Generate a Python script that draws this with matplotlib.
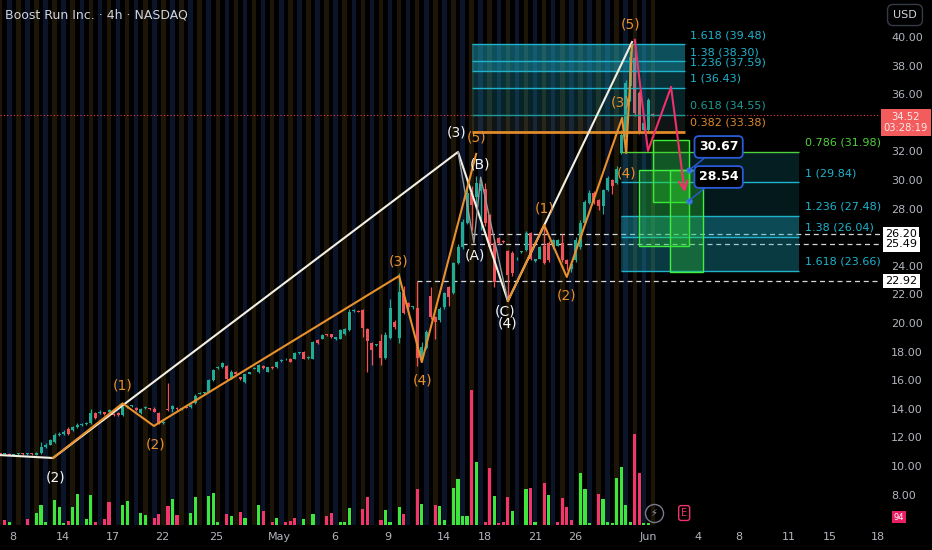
import matplotlib
matplotlib.use("Agg")
import matplotlib.pyplot as plt
from matplotlib.patches import Rectangle

# ---- candles (4h bars, index = bar number) ----
opens = [10.85, 10.82, 10.85, 10.80, 10.83, 10.86, 10.82, 10.84, 10.80, 10.90,
         11.30, 11.50, 11.70, 12.20, 12.25, 12.60, 12.50, 12.70, 12.85, 12.95,
         13.00, 13.70, 13.70, 13.75, 13.80, 13.65, 13.70, 13.55, 14.10, 14.20,
         14.05, 13.70, 14.05, 14.02, 14.00, 13.70, 13.00, 14.00, 14.00, 14.05,
         14.00, 14.12, 14.10, 14.40, 15.05, 15.10, 15.20, 16.00, 16.85, 16.90,
         17.00, 16.10, 16.60, 16.20, 15.90, 16.45, 16.80, 16.60, 17.00, 16.60,
         16.95, 16.90, 17.35, 17.45, 17.50, 17.50, 17.88, 18.00, 17.55, 17.50,
         18.80, 18.90, 19.20, 19.20, 18.85, 18.90, 19.20, 19.50, 20.85, 20.85,
         20.90, 19.60, 18.60, 18.45, 18.75, 17.55, 18.95, 20.10, 18.95, 22.10,
         21.40, 21.10, 21.05, 17.55, 18.25, 21.90, 20.40, 20.20, 21.10, 22.50,
         22.10, 24.20, 25.30, 27.00, 29.10, 28.80, 29.20, 29.40, 27.55, 25.60,
         25.95, 25.75, 25.00, 24.90, 24.45, 24.95, 25.10, 26.30, 24.35, 24.50,
         25.40, 25.60, 25.30, 25.40, 25.60, 24.40, 23.80, 24.40, 25.30, 27.00,
         28.40, 29.10, 28.60, 28.20, 29.30, 30.00, 29.80, 31.90, 33.00, 36.60,
         38.55, 36.10, 33.50, 33.50, 34.60]
highs = [10.90, 10.88, 10.90, 10.85, 10.90, 10.90, 10.88, 10.90, 10.95, 11.70,
         11.60, 11.90, 12.30, 12.35, 12.50, 12.70, 12.80, 13.00, 13.00, 13.05,
         14.00, 13.80, 13.90, 13.80, 14.00, 13.70, 13.75, 14.20, 14.30, 14.30,
         14.10, 14.05, 14.20, 14.05, 14.10, 13.75, 13.15, 15.80, 14.30, 14.10,
         14.05, 14.15, 14.35, 15.00, 15.15, 15.15, 16.10, 16.80, 17.00, 17.25,
         17.05, 16.70, 16.65, 16.25, 16.45, 16.60, 16.90, 17.10, 17.05, 16.95,
         17.00, 17.35, 17.45, 17.55, 17.55, 17.95, 17.95, 18.05, 17.70, 18.75,
         18.85, 19.20, 19.25, 19.25, 19.05, 19.55, 19.65, 21.00, 20.95, 20.90,
         20.95, 19.65, 18.65, 18.55, 19.20, 19.40, 21.70, 20.20, 23.50, 22.60,
         21.45, 21.20, 22.92, 18.70, 19.50, 22.50, 20.50, 21.10, 22.20, 22.60,
         24.30, 25.50, 27.30, 30.00, 29.60, 30.30, 30.00, 29.80, 27.60, 25.90,
         26.00, 25.80, 25.10, 25.00, 24.60, 25.05, 26.40, 26.35, 24.50, 25.40,
         26.70, 25.70, 25.85, 25.90, 26.20, 24.50, 24.20, 26.00, 27.20, 28.60,
         29.30, 29.20, 28.70, 29.40, 30.30, 30.10, 31.00, 33.50, 37.00, 39.00,
         39.80, 36.20, 34.10, 35.70, 34.70]
lows = [10.80, 10.78, 10.80, 10.75, 10.80, 10.80, 10.78, 10.80, 10.78, 10.85,
        11.25, 11.45, 11.60, 12.10, 12.20, 12.20, 12.45, 12.65, 12.80, 12.90,
        12.95, 13.30, 13.65, 13.60, 13.75, 13.50, 13.50, 13.50, 14.05, 14.15,
        13.85, 13.65, 14.00, 13.95, 13.75, 12.95, 12.95, 13.85, 13.80, 13.95,
        13.95, 14.05, 14.05, 14.35, 15.00, 15.05, 15.15, 15.95, 16.80, 16.85,
        16.00, 16.05, 16.35, 16.00, 15.80, 16.40, 16.75, 16.50, 16.80, 16.55,
        16.80, 16.85, 17.30, 17.40, 17.25, 17.45, 17.85, 17.45, 17.50, 17.45,
        18.55, 18.85, 19.10, 18.95, 18.80, 18.85, 19.15, 19.45, 20.80, 20.75,
        19.00, 16.60, 17.05, 18.40, 17.05, 17.50, 18.90, 19.60, 18.60, 20.60,
        21.00, 21.00, 17.00, 17.30, 18.20, 20.30, 18.90, 20.10, 21.00, 21.20,
        22.00, 24.10, 25.20, 26.90, 26.50, 28.00, 26.50, 26.80, 25.00, 22.50,
        25.50, 25.60, 21.60, 23.30, 24.40, 24.90, 25.00, 24.40, 24.30, 24.45,
        24.10, 24.30, 25.20, 25.35, 24.30, 23.70, 23.60, 24.30, 25.20, 26.90,
        28.30, 28.30, 27.90, 27.60, 29.20, 29.00, 29.70, 31.80, 31.90, 35.50,
        34.50, 33.20, 33.30, 33.40, 34.45]
closes = [10.82, 10.85, 10.80, 10.83, 10.86, 10.82, 10.84, 10.83, 10.90, 11.30,
          11.50, 11.80, 12.20, 12.25, 12.40, 12.25, 12.70, 12.90, 12.95, 12.98,
          13.70, 13.35, 13.80, 13.65, 13.90, 13.55, 13.55, 14.10, 14.20, 14.22,
          13.90, 14.00, 14.15, 14.00, 13.80, 13.00, 13.10, 13.90, 14.20, 14.00,
          14.02, 14.08, 14.30, 14.90, 15.10, 15.12, 16.00, 16.70, 16.90, 17.20,
          16.10, 16.60, 16.40, 16.10, 16.40, 16.55, 16.85, 17.05, 16.85, 16.90,
          16.85, 17.30, 17.40, 17.50, 17.30, 17.90, 17.90, 17.50, 17.65, 18.70,
          18.60, 19.15, 19.15, 19.00, 19.00, 19.50, 19.60, 20.80, 20.90, 20.80,
          19.65, 18.75, 18.10, 18.50, 17.55, 19.15, 21.05, 19.70, 22.20, 20.70,
          21.10, 21.12, 17.55, 18.30, 19.40, 20.40, 20.10, 21.00, 22.10, 21.80,
          24.20, 25.30, 27.05, 29.10, 28.25, 29.80, 29.70, 27.00, 25.30, 22.90,
          25.60, 25.65, 23.35, 23.50, 24.50, 25.00, 26.30, 24.50, 24.45, 25.30,
          24.20, 24.40, 25.80, 25.80, 24.40, 24.10, 24.10, 25.80, 27.00, 28.45,
          29.10, 28.40, 28.20, 29.30, 30.15, 29.60, 30.80, 33.15, 36.80, 38.60,
          34.70, 33.35, 34.00, 35.60, 34.52]

# ---- volume (visible bars only) ----
vol_idx = [1, 2, 6, 8, 9, 10, 12, 13, 14, 15, 16, 17, 19, 20, 21, 23, 24, 27, 28, 31,
           32, 34, 35, 37, 38, 39, 42, 43, 46, 47, 48, 50, 51, 53, 54, 57, 58, 60, 61, 63,
           64, 65, 67, 69, 72, 73, 75, 76, 77, 80, 81, 84, 85, 86, 88, 89, 92, 93, 96, 97,
           98, 100, 101, 102, 103, 104, 105, 107, 108, 109, 110, 111, 112, 113, 116, 117,
           118, 120, 121, 123, 124, 125, 126, 128, 129, 130, 132, 133, 134, 135, 136, 137,
           138, 139, 140, 141, 142, 143]
vol_val = [5, 3, 6, 12, 20, 3, 25, 18, 2, 4, 18, 31, 6, 30, 3, 6, 23, 20, 24, 12,
           10, 7, 11, 19, 26, 10, 12, 28, 29, 32, 3, 11, 9, 13, 7, 20, 14, 3, 7, 3,
           4, 7, 6, 11, 9, 12, 3, 3, 17, 16, 28, 5, 15, 3, 18, 11, 36, 21, 20, 19,
           5, 37, 46, 9, 9, 135, 63, 3, 57, 29, 2, 3, 28, 14, 36, 37,
           3, 42, 30, 3, 27, 18, 5, 52, 36, 2, 31, 26, 3, 2, 47, 58,
           20, 3, 91, 52, 2, 2]
vol_up = [0, 1, 0, 1, 1, 1, 1, 1, 1, 0, 1, 1, 1, 1, 0, 0, 0, 1, 1, 1,
          1, 0, 0, 0, 1, 0, 1, 1, 1, 1, 1, 0, 1, 0, 1, 1, 0, 0, 1, 0,
          0, 0, 1, 1, 0, 0, 1, 1, 1, 0, 0, 0, 1, 1, 1, 0, 0, 1, 0, 1,
          1, 1, 1, 1, 1, 0, 1, 0, 0, 1, 0, 0, 0, 1, 1, 0,
          1, 0, 1, 0, 0, 0, 0, 1, 1, 1, 0, 1, 1, 1, 1, 1,
          1, 1, 0, 0, 1, 1]

# ---- elliott waves (bar, price) ----
white_x = [-0.5, 11.65, 101.0, 112.0, 139.4]
white_y = [10.77, 10.56, 31.96, 21.54, 39.65]
abc_x = [101.0, 104.5, 106.0, 112.0]
abc_y = [31.96, 25.6, 30.2, 21.54]
orange1_x = [11.65, 27.0, 33.9, 88.0, 93.0, 105.0]
orange1_y = [10.56, 14.38, 12.80, 23.29, 17.27, 31.82]
orange2_x = [112.0, 120.0, 125.0, 137.2, 138.1, 139.4]
orange2_y = [21.54, 26.85, 23.22, 34.34, 31.89, 39.44]
proj_x = [140.0, 142.9, 148.0, 151.1]
proj_y = [39.80, 32.03, 36.50, 28.95]

white_labels = [("(2)", 12.1, 9.23), ("(3)", 100.6, 33.29), ("(B)", 105.9, 31.05),
                ("(A)", 104.8, 24.69), ("(C)", 111.4, 20.77), ("(4)", 112.0, 19.93)]
orange_labels = [("(1)", 26.9, 15.66), ("(2)", 34.2, 11.47), ("(3)", 87.8, 24.27),
                 ("(4)", 93.1, 16.01), ("(5)", 105.2, 33.00), ("(1)", 120.0, 28.04),
                 ("(2)", 125.0, 21.89), ("(3)", 136.9, 35.45), ("(4)", 138.1, 30.42),
                 ("(5)", 139.0, 40.84)]

# ---- fib extensions ----
fib_top_ratio = ["1.618", "1.38", "1.236", "1", "0.618", "0.382"]
fib_top_level = [39.48, 38.30, 37.59, 36.43, 34.55, 33.38]
fib_bot_ratio = ["0.786", "1", "1.236", "1.38", "1.618"]
fib_bot_level = [31.98, 29.84, 27.48, 26.04, 23.66]

# target zones (x0, x1, low, high)
zones = [(144.0, 151.9, 28.45, 32.8), (140.9, 151.9, 25.4, 30.7), (147.8, 155.1, 23.6, 30.7)]
targets = [30.67, 28.54]

marked_levels = [26.20, 25.49, 22.92]
marked_start = [104.1, 101.9, 92.0]
last_price = 34.52

tick_pos = [2.8, 13.9, 24.9, 35.7, 47.6, 61.7, 73.9, 85.5, 97.9, 107.0, 118.0, 126.8,
            142.9, 153.9, 163.0, 174.0, 183.1, 193.6]
tick_lab = ["8", "14", "17", "22", "25", "May", "6", "9", "14", "18", "21", "26",
            "Jun", "4", "8", "11", "15", "18"]

UP = "#22ab94"
DOWN = "#f0525a"
WHITE = "#f3efe0"
ORANGE = "#e8902c"
CYAN = "#1fb3cc"
GREY = "#b2b5be"

XMIN, XMAX = -0.05, 194.1
YMIN, YMAX = 5.874, 42.587

fig = plt.figure(figsize=(9.32, 5.5), dpi=100, facecolor="black")
rect = [0, 25 / 550, 880 / 932, 525 / 550]

# background: session stripes + volume
bg = fig.add_axes(rect)
bg.set_facecolor("black")
bg.set_xlim(XMIN, XMAX)
bg.set_ylim(0, 525)
bg.axis("off")
stripe_cols = ["#1d1608", "#000000", "#0b1428", "#000000"]
for i in range(len(opens)):
    bg.axvspan(i - 0.5, i + 0.5, color=stripe_cols[i % 4], lw=0, zorder=0)
bg.bar(vol_idx, vol_val, width=0.7,
       color=["#3ce63c" if u else "#f2356d" for u in vol_up], zorder=1)

ax = fig.add_axes(rect)
ax.patch.set_alpha(0)
ax.set_xlim(XMIN, XMAX)
ax.set_ylim(YMIN, YMAX)
for s in ax.spines.values():
    s.set_visible(False)

# price line and marked levels
ax.axhline(last_price, color="#f23645", lw=0.8, ls=(0, (1, 2)), zorder=1)
for lv, st in zip(marked_levels, marked_start):
    ax.hlines(lv, st, XMAX, colors="#d8d8d8", linestyles=(0, (4, 3)), lw=0.9, zorder=2)

# candles
xs = list(range(len(opens)))
cols = [UP if c >= o else DOWN for o, c in zip(opens, closes)]
ax.vlines(xs, lows, highs, colors=cols, lw=0.9, zorder=3)
body = [max(abs(c - o), 0.06) for o, c in zip(opens, closes)]
ax.bar(xs, body, bottom=[min(o, c) for o, c in zip(opens, closes)], width=0.66,
       color=cols, zorder=3)

# top fib
tx0, tx1 = 104.1, 151.1
top_alpha = [0.45, 0.5, 0.28, 0.2, 0.13]
for k in range(len(fib_top_level) - 1):
    ax.fill_between([tx0, tx1], fib_top_level[k + 1], fib_top_level[k],
                    color=CYAN if k < 4 else "#7aa0a0", alpha=top_alpha[k], lw=0, zorder=4)
top_col = [CYAN, CYAN, CYAN, CYAN, "#1c9a96", "#e08a2a"]
for r, lv, c in zip(fib_top_ratio, fib_top_level, top_col):
    ax.hlines(lv, tx0, tx1, colors=c, lw=2.0 if r == "0.382" else 1.0, zorder=5)
    ax.annotate(f"{r} ({lv:.2f})", (tx1 + 1.1, lv), xytext=(0, 3), textcoords="offset points",
                color=c, fontsize=8, ha="left", va="bottom", zorder=7)

# bottom fib
bx0, bx1 = 137.0, 176.2
bot_alpha = [0.17, 0.14, 0.42, 0.32]
for k in range(len(fib_bot_level) - 1):
    ax.fill_between([bx0, bx1], fib_bot_level[k + 1], fib_bot_level[k],
                    color=CYAN, alpha=bot_alpha[k], lw=0, zorder=4)
bot_col = ["#4fd13a", CYAN, CYAN, CYAN, CYAN]
for r, lv, c in zip(fib_bot_ratio, fib_bot_level, bot_col):
    ax.hlines(lv, bx0, bx1, colors=c, lw=1.0, zorder=5)
    ax.annotate(f"{r} ({lv:.2f})", (bx1 + 1.3, lv), xytext=(0, 3), textcoords="offset points",
                color=c, fontsize=8, ha="left", va="bottom", zorder=7)

# green target zones
for x0, x1, lo, hi in zones:
    ax.add_patch(Rectangle((x0, lo), x1 - x0, hi - lo, fc="#2ed82e", alpha=0.3, lw=0, zorder=5))
    ax.add_patch(Rectangle((x0, lo), x1 - x0, hi - lo, fc="none", ec="#3ff03f", lw=1.0, zorder=5))

# wave lines
ax.plot(white_x, white_y, color=WHITE, lw=1.5, zorder=6)
ax.plot(abc_x, abc_y, color="#9a9a9a", lw=1.0, zorder=6)
ax.plot(orange1_x, orange1_y, color=ORANGE, lw=1.5, zorder=6)
ax.plot(orange2_x, orange2_y, color=ORANGE, lw=1.5, zorder=6)
ax.plot(proj_x[:-1], proj_y[:-1], color="#f0306a", lw=1.5, zorder=6)
ax.annotate("", xy=(proj_x[-1], proj_y[-1]), xytext=(proj_x[-2], proj_y[-2]),
            arrowprops=dict(arrowstyle="->", color="#f0306a", lw=1.5, mutation_scale=16),
            zorder=6)

for t, x, y in white_labels:
    ax.text(x, y, t, color="#f5f5f5", fontsize=10, ha="center", va="center", zorder=7)
for t, x, y in orange_labels:
    ax.text(x, y, t, color=ORANGE, fontsize=10, ha="center", va="center", zorder=7)

# callouts
box_y = [32.31, 30.21]
for v, by in zip(targets, box_y):
    ax.plot(151.9, v, "o", ms=3.5, color="#3b78e7", zorder=8)
    ax.annotate(f"{v:.2f}", xy=(151.9, v), xytext=(158.5, by), color="white", fontsize=9,
                fontweight="bold", ha="center", va="center", zorder=8,
                bbox=dict(boxstyle="round,pad=0.35", fc="black", ec="#2a5bd7", lw=1.3),
                arrowprops=dict(arrowstyle="-", color="#2a5bd7", lw=1.0,
                                shrinkA=0, shrinkB=0))

# icons near the bottom
ax.plot(144.2, 6.71, "o", ms=13, mfc="none", mec="#787b86", mew=1.0, zorder=7)
ax.text(144.2, 6.71, "\u26a1", color="#9598a1", fontsize=7, ha="center", va="center", zorder=7)
ax.text(150.9, 6.71, "E", color="#f0306a", fontsize=7, ha="center", va="center", zorder=7,
        bbox=dict(boxstyle="round,pad=0.25", fc="black", ec="#f0306a", lw=1.0))

# axes
yt = [8, 10, 12, 14, 16, 18, 20, 22, 24, 28, 30, 32, 36, 38, 40]
ax.yaxis.tick_right()
ax.set_yticks(yt)
ax.set_yticklabels([f"{v:.2f}" for v in yt])
ax.set_xticks(tick_pos)
ax.set_xticklabels(tick_lab)
ax.tick_params(axis="y", length=0, pad=8, labelsize=8, labelcolor=GREY)
ax.tick_params(axis="x", length=0, pad=5, labelsize=8, labelcolor=GREY)

ytr = ax.get_yaxis_transform()
for lv in marked_levels:
    ax.text(1.006, lv, f"{lv:.2f}", transform=ytr, ha="left", va="center", fontsize=8,
            color="black", zorder=9, bbox=dict(boxstyle="square,pad=0.2", fc="white", ec="none"))
ax.text(906 / 880, last_price - 0.5, f"{last_price:.2f}\n03:28:19", transform=ytr, ha="center",
        va="center", fontsize=7.2, color="#ffe8e8", linespacing=1.15, zorder=9,
        bbox=dict(boxstyle="square,pad=0.3", fc="#f25c5c", ec="none"))

fig.text(5 / 932, 1 - 15 / 550, "Boost Run Inc. \u00b7 4h \u00b7 NASDAQ", color="#d1d4dc",
         fontsize=9, ha="left", va="center")
fig.text(905 / 932, 1 - 15 / 550, "USD", color="#d1d4dc", fontsize=8, ha="center", va="center",
         bbox=dict(boxstyle="round,pad=0.5", fc="black", ec="#363a45"))
fig.text(899 / 932, 1 - 517 / 550, "94", color="white", fontsize=6, ha="center", va="center",
         bbox=dict(boxstyle="square,pad=0.2", fc="#e91e63", ec="none"))

fig.savefig("out.png", dpi=100, facecolor="black")
